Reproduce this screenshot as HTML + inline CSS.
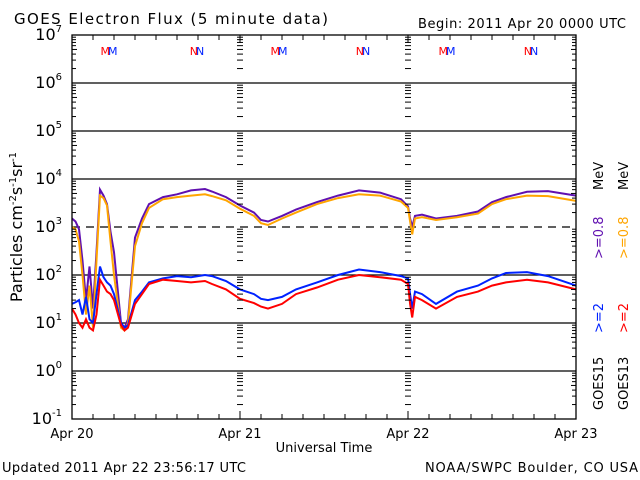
<!DOCTYPE html>
<html><head><meta charset="utf-8"><style>
html,body{margin:0;padding:0;background:#fff}
svg{display:block;font-family:"DejaVu Sans","Liberation Sans",sans-serif}
</style></head><body>
<svg id="c" width="640" height="480" viewBox="0 0 640 480">
<text x="14" y="24" font-size="15" textLength="314" lengthAdjust="spacing">GOES Electron Flux (5 minute data)</text>
<text x="418" y="28" font-size="13" textLength="208" lengthAdjust="spacing">Begin: 2011 Apr 20 0000 UTC</text>
<text x="2" y="472" font-size="13" textLength="244" lengthAdjust="spacing">Updated 2011 Apr 22 23:56:17 UTC</text>
<text x="425" y="472" font-size="13" textLength="213" lengthAdjust="spacing">NOAA/SWPC Boulder, CO USA</text>
<text x="324" y="452" font-size="13" text-anchor="middle">Universal Time</text>
<text transform="translate(22,227) rotate(-90)" font-size="16" text-anchor="middle">Particles cm<tspan dy="-6" font-size="10">-2</tspan><tspan dy="6">s</tspan><tspan dy="-6" font-size="10">-1</tspan><tspan dy="6">sr</tspan><tspan dy="-6" font-size="10">-1</tspan></text>
<g font-size="13">
<text transform="translate(603,410) rotate(-90)">GOES15</text>
<text transform="translate(603,333) rotate(-90)" fill="#0022ff">&gt;=2</text>
<text transform="translate(603,259) rotate(-90)" fill="#6010b0">&gt;=0.8</text>
<text transform="translate(603,190) rotate(-90)">MeV</text>
<text transform="translate(628,410) rotate(-90)">GOES13</text>
<text transform="translate(628,333) rotate(-90)" fill="#ff0000">&gt;=2</text>
<text transform="translate(628,259) rotate(-90)" fill="#ffa500">&gt;=0.8</text>
<text transform="translate(628,190) rotate(-90)">MeV</text>
</g>
<g id="grid"></g><g id="series"></g><g id="axes"></g>
</svg>
<script>
const hours = [0,0.5,1,1.5,2,2.5,3,3.5,4,4.5,5,5.5,6,7,7.5,8,9,10,11,13,15,17,19,20,22,24,26,27,28,30,32,35,38,41,44,47,48,48.3,48.6,49,50,52,55,58,60,62,65,68,72];
const purple = [1500,1300,900,200,30,150,20,300,6000,4500,3000,800,300,10,8,12,600,1500,3000,4200,4800,5800,6200,5500,4200,2800,2000,1400,1300,1700,2300,3300,4500,5800,5200,3800,2700,1500,1000,1700,1800,1500,1700,2100,3300,4200,5400,5600,4500];
const orange = [1000,900,500,100,15,60,8,200,4500,4000,2800,500,100,8,7,10,400,1200,2500,3800,4200,4500,4800,4400,3600,2400,1700,1200,1100,1500,2000,3000,4000,4800,4500,3400,2500,1300,700,1500,1600,1400,1600,1900,3000,3800,4500,4400,3500];
const blue = [25,27,30,15,35,12,10,40,150,90,70,60,40,10,8,9,30,45,70,85,95,90,100,95,75,50,40,32,30,35,50,70,100,130,115,95,85,40,20,45,40,25,45,60,85,110,115,95,60];
const red = [20,15,10,8,12,8,7,15,80,60,45,40,30,9,7,8,25,40,65,80,75,70,75,65,50,32,26,22,20,25,40,55,80,100,90,80,65,25,13,35,30,20,35,45,60,70,80,70,50];
const yTicks = [-1,0,1,2,3,4,5,6,7];
const xLabels = ["Apr 20","Apr 21","Apr 22","Apr 23"];
const L=72,R=576,T=35,B=419;
const xs=h=>L+(R-L)*h/72;
const ys=v=>B-(B-T)*(Math.log10(v)+1)/8;
const yl=e=>B-(B-T)*(e+1)/8;
const NS="http://www.w3.org/2000/svg";
function mk(tag,attrs,parent){const e=document.createElementNS(NS,tag);for(const k in attrs)e.setAttribute(k,attrs[k]);parent.appendChild(e);return e;}
const grid=document.getElementById('grid'),axes=document.getElementById('axes'),ser=document.getElementById('series');
yTicks.forEach(e=>{
  if(e>-1&&e<7){const ln=mk('line',{x1:L,x2:R,y1:yl(e),y2:yl(e),stroke:'#000','stroke-width':1.3},grid);
  if(e===3)ln.setAttribute('stroke-dasharray','8,6');
  
  }
  const t=mk('text',{x:62,y:yl(e)+5,'font-size':16,'text-anchor':'end'},axes);
  
  
  t.innerHTML='10<tspan dy="-8" font-size="10">'+e+'</tspan>';
  if(e<7){for(let m=2;m<=9;m++){const y=yl(e)-(B-T)/8*Math.log10(m);
    [L,240,408,R].forEach((x,i)=>{const w=(m===5?5:4);
      if(i===0)mk('line',{x1:L,x2:L+w,y1:y,y2:y,stroke:'#000'},axes);
      else if(i===3)mk('line',{x1:R-w,x2:R,y1:y,y2:y,stroke:'#000'},axes);
      else mk('line',{x1:x-3,x2:x+3,y1:y,y2:y,stroke:'#000'},axes);});}}
});
for(let h=0;h<=72;h+=3){const x=xs(h);mk('line',{x1:x,x2:x,y1:B,y2:B-(h%24?5:8),stroke:'#000'},axes);mk('line',{x1:x,x2:x,y1:T,y2:T+(h%24?5:8),stroke:'#000'},axes);}
xLabels.forEach((s,i)=>{const t=mk('text',{x:xs(i*24),y:438,'font-size':13,'text-anchor':'middle'},axes);t.textContent=s;
  
  });
const box=mk('rect',{x:L,y:T,width:R-L,height:B-T,fill:'none',stroke:'#000','stroke-width':1.3},axes);


[[purple,'#6010b0','goes15-08mev-line'],[orange,'#ffa500','goes13-08mev-line'],[blue,'#0022ff','goes15-2mev-line'],[red,'#ff0000','goes13-2mev-line']].forEach(([d,c,n])=>{
  let p='';d.forEach((v,i)=>{const x=xs(hours[i]).toFixed(1),y=ys(v).toFixed(1);p+=(i?'L':'M')+x+','+y;});
  const el=mk('path',{d:p,fill:'none',stroke:c,'stroke-width':2},ser);
  
  
});
[[108,'MM'],[196,'NN'],[278,'MM'],[362,'NN'],[446,'MM'],[530,'NN']].forEach(([x,s],i)=>{
  const t=mk('text',{x:x,y:55,'font-size':11,'text-anchor':'middle','letter-spacing':'-2'},axes);
  t.innerHTML='<tspan fill="#ff0000">'+s[0]+'</tspan><tspan fill="#0022ff">'+s[1]+'</tspan>';
  
  
});
</script>
</body></html>
